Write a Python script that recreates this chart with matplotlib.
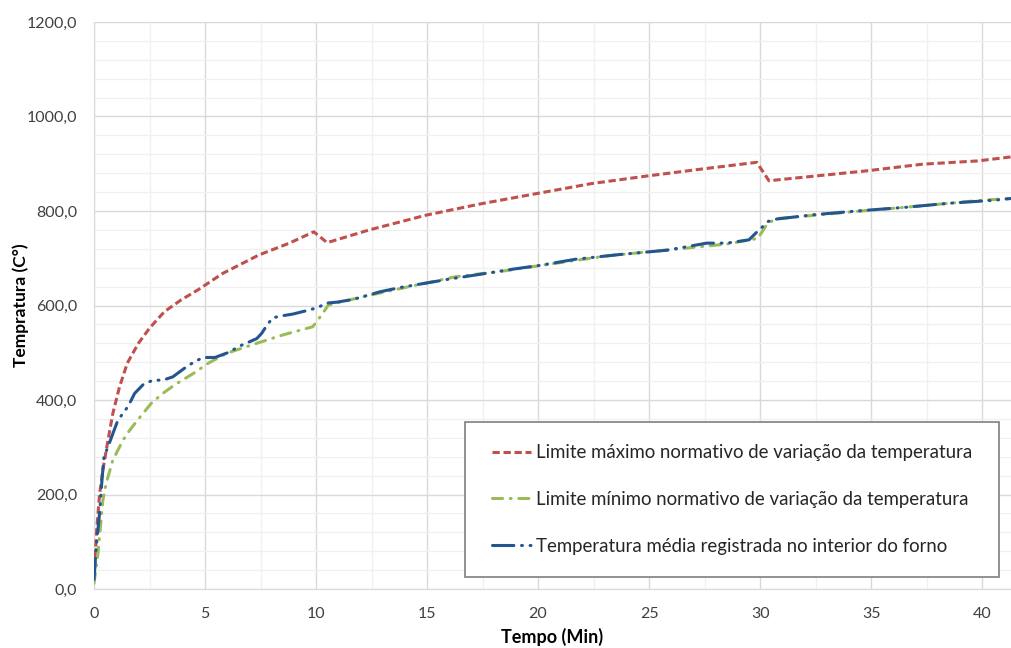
import matplotlib.pyplot as plt
from matplotlib.lines import Line2D
from matplotlib.patches import Rectangle
from matplotlib.ticker import MultipleLocator, FuncFormatter

plt.rcParams['font.family'] = ['Lato', 'DejaVu Sans']

# limite maximo (min, C)
t_max = [0, 0.12, 0.25, 0.4, 0.63, 0.85, 1.15, 1.5, 2, 2.5, 3.17, 3.93, 4.68, 5, 5.8,
         7.43, 8.8, 9.9, 10.5, 12.4, 14.94, 17.4, 19.95, 22.4, 24.9, 27.4, 29.85,
         30.4, 30.8, 34.8, 37.3, 39.8, 41.4]
temp_max = [20, 125, 200, 252, 315, 372, 428, 478, 520, 552, 587, 612, 633, 643, 668,
            707, 732, 756, 733, 760, 791, 815, 837, 858, 874, 889, 903,
            864, 866, 885, 899, 906, 915]

# limite minimo
t_min = [0, 0.18, 0.4, 0.55, 0.85, 1.23, 1.45, 1.9, 2.58, 3.1, 3.63, 4.47, 5.15, 5.98,
         7.33, 8.53, 9.85, 10.3, 10.55, 12.25, 14.2, 16.3, 18.3, 20.3, 23.1, 25.7,
         28.5, 29.9, 30.35, 30.8, 34.8, 37.3, 39.8, 41.4]
temp_min = [12, 76, 188, 224, 273, 308, 326, 354, 393, 414, 432, 456, 478, 499,
            520, 538, 555, 583, 601, 620, 640, 661, 672, 686, 705, 717,
            730, 742, 775, 784, 801, 811, 822, 827]

# temperatura media do forno
t_avg = [0, 0.1, 0.25, 0.36, 0.45, 0.63, 0.85, 1.05, 1.3, 1.53, 1.83, 2.2, 2.65, 3.1,
         3.55, 4.07, 4.52, 4.92, 5.45, 6.13, 6.5, 6.9, 7.33, 7.55, 7.8, 8.05, 8.45,
         8.97, 9.65, 10.1, 10.45, 10.93, 11.68, 12.88, 13.78, 15.28, 15.88, 17.38,
         18.88, 20.1, 21.7, 23.7, 25.8, 27.6, 28.5, 29.5, 29.8, 30.37, 30.75, 32.4,
         34.35, 36.6, 38.4, 40.6, 41.4]
temp_avg = [20, 90, 160, 231, 280, 301, 329, 354, 372, 386, 414, 432, 442, 442,
            449, 467, 481, 490, 490, 502, 513, 521, 530, 541, 559, 574, 578,
            582, 590, 596, 605, 607, 613, 629, 638, 650, 655, 666,
            677, 685, 698, 708, 717, 732, 732, 739, 753, 778, 783, 792,
            800, 808, 816, 823, 827]

labels = ['Limite máximo normativo de variação da temperatura',
          'Limite mínimo normativo de variação da temperatura',
          'Temperatura média registrada no interior do forno']

red = '#C0504D'
green = '#9BBB59'
blue = '#24558F'

ls_red = (0, (2.4, 1.2))
ls_green = (0, (3.3, 2.5, 0.3, 2.5))
ls_blue = (0, (7, 2.5, 0.3, 2.5, 0.3, 2.5))

fig = plt.figure(figsize=(10.11, 6.48), dpi=100)
ax = fig.add_axes([94 / 1011, 1 - 589 / 648, 917 / 1011, 567 / 648])

ax.plot(t_max, temp_max, color=red, lw=2.2, linestyle=ls_red, zorder=3)
ax.plot(t_min, temp_min, color=green, lw=2.2, linestyle=ls_green,
        dash_capstyle='round', zorder=3)
ax.plot(t_avg, temp_avg, color=blue, lw=2.2, linestyle=ls_blue,
        dash_capstyle='round', zorder=3)

ax.set_xlim(0, 41.3)
ax.set_ylim(0, 1200)
ax.xaxis.set_major_locator(MultipleLocator(5))
ax.xaxis.set_minor_locator(MultipleLocator(2.5))
ax.yaxis.set_major_locator(MultipleLocator(200))
ax.yaxis.set_minor_locator(MultipleLocator(40))
ax.yaxis.set_major_formatter(FuncFormatter(lambda v, p: f'{v:.1f}'.replace('.', ',')))
ax.grid(which='major', color='#D9D9D9', lw=1)
ax.grid(which='minor', color='#F0F0F0', lw=1)
ax.set_axisbelow(True)
ax.tick_params(which='both', length=0, labelsize=11.5, colors='#404040')
ax.tick_params(axis='y', pad=12)
ax.tick_params(axis='x', pad=13)
for s in ['top', 'right']:
    ax.spines[s].set_visible(False)
for s in ['left', 'bottom']:
    ax.spines[s].set_color('#D9D9D9')

ax.set_xlabel('Tempo (Min)', fontsize=13, fontweight='bold', labelpad=5)
ax.set_ylabel('Tempratura (C°)', fontsize=12.5, fontweight='bold')
ax.yaxis.set_label_coords(-0.071, 0.5)

# legend box
bx, by, bw, bh = 0.4046, 0.0212, 0.5818, 0.2733
ax.add_patch(Rectangle((bx, by), bw, bh, transform=ax.transAxes, fc='white',
                       ec='#7F7F7F', lw=1.2, zorder=4))
handles = [Line2D([], [], color=red, lw=2.2, linestyle=ls_red),
           Line2D([], [], color=green, lw=2.2, linestyle=ls_green, dash_capstyle='round'),
           Line2D([], [], color=blue, lw=2.2, linestyle=ls_blue, dash_capstyle='round')]
leg = ax.legend(handles, labels, loc='center', bbox_to_anchor=(bx + bw / 2, by + bh / 2),
                frameon=False, fontsize=13.4, labelspacing=1.6, handlelength=2.1,
                handletextpad=0.25, labelcolor='#262626')
leg.set_zorder(5)

fig.savefig('out.png', dpi=100)
